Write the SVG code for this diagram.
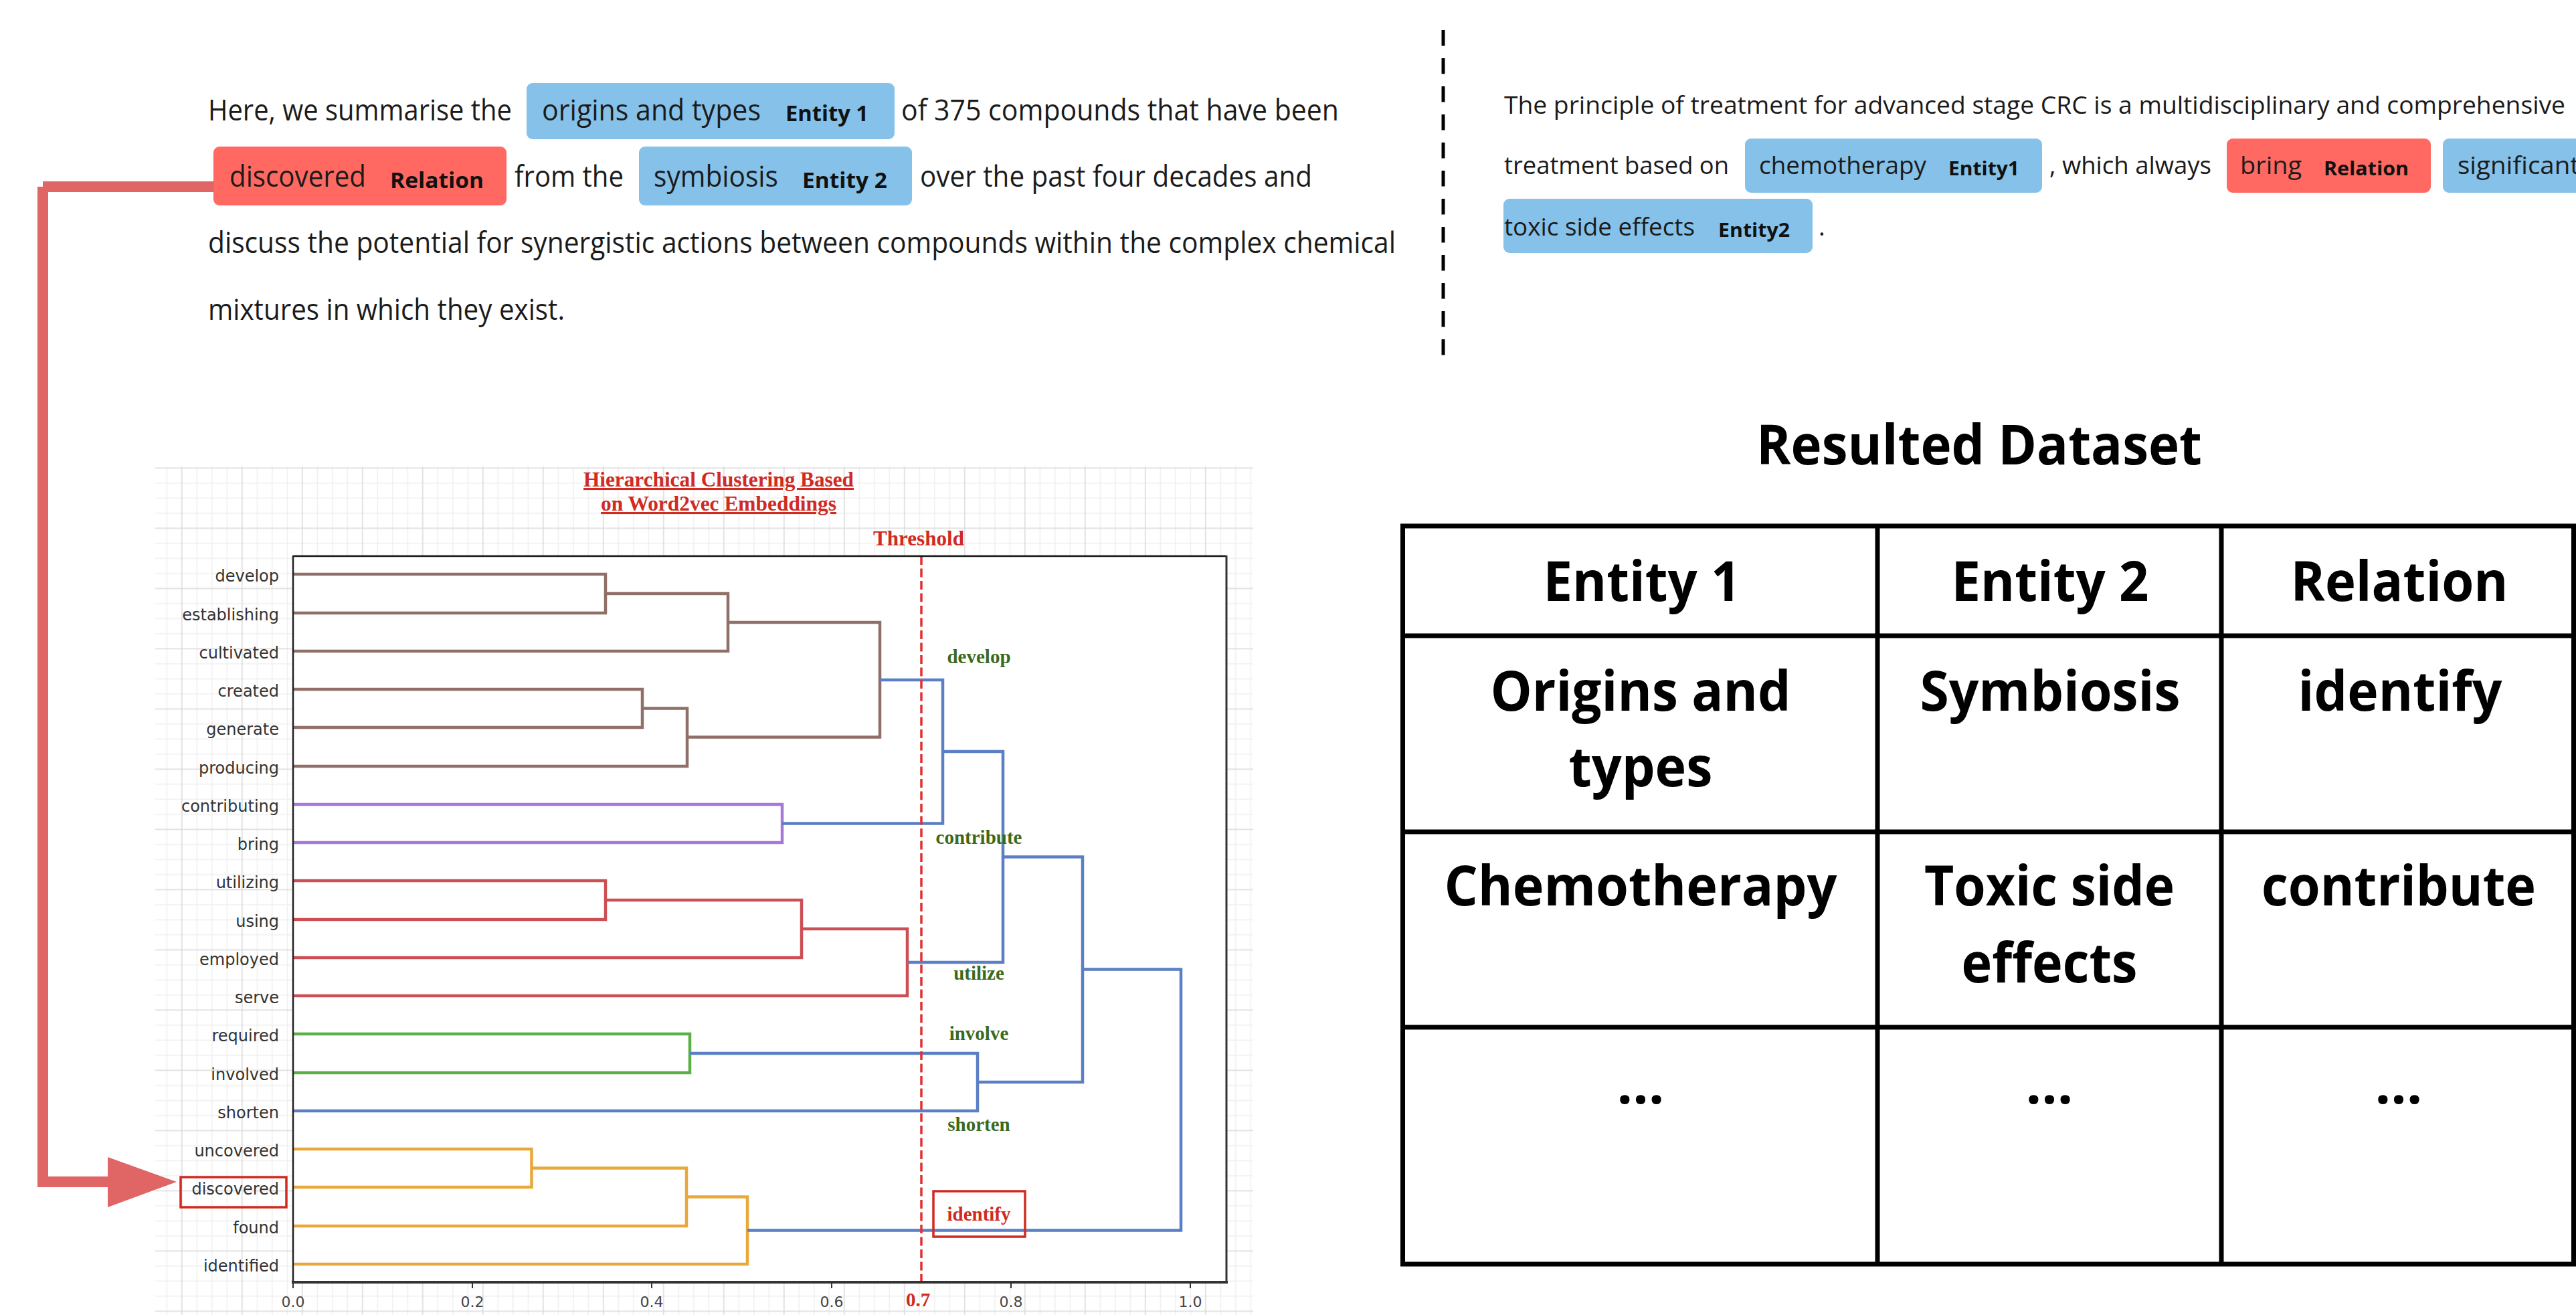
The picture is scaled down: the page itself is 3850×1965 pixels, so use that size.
<svg xmlns="http://www.w3.org/2000/svg" width="3850" height="1965" viewBox="0 0 3850 1965">
<defs>
<style>
.t{font-family:"Open Sans","Noto Sans",sans-serif;fill:#1b1b1b}
.p1{font-size:44px}
.p2{font-size:37px}
.b1{font-size:33px;font-weight:700;fill:#111}
.b2{font-size:28px;font-weight:700;fill:#111}
.ent{fill:#85c1e9}
.rel{fill:#ff6961}
.leaf{font-family:"DejaVu Sans",sans-serif;font-size:24px;fill:#333;text-anchor:end}
.cl{font-family:"Liberation Serif",serif;font-weight:700;font-size:29px;fill:#3a6a1c;text-anchor:middle}
.rd{font-family:"Liberation Serif",serif;font-weight:700;fill:#d02a22}
.tick{font-family:"DejaVu Sans",sans-serif;font-size:22px;fill:#444;text-anchor:middle}
.lk{fill:none;stroke-width:4.5;stroke-linejoin:miter}
.brown{stroke:#8f6f67}.purple{stroke:#a679d6}.red{stroke:#cc4f55}.green{stroke:#5ab046}.orange{stroke:#e9a93a}.blue{stroke:#5b7fc4}
.tb{stroke:#000;stroke-width:7;fill:none}
.th{font-family:"Open Sans","Noto Sans",sans-serif;font-weight:700;font-size:83px;text-anchor:middle;fill:#000}
.arr{stroke:#e06666;stroke-width:16;fill:none}
</style>
<pattern id="grid" x="0.8" y="68.4" width="90" height="90" patternUnits="userSpaceOnUse">
<path d="M23.5 0V90M46 0V90M68.5 0V90M0 23.5H90M0 46H90M0 68.5H90" stroke="#efefef" stroke-width="1.5"/>
<path d="M1 0V90M0 1H90" stroke="#dadada" stroke-width="1.5"/>
</pattern>
</defs>
<rect width="3850" height="1965" fill="#fff"/>

<g id="para-left" class="t">
<text class="t p1" x="311" y="180" textLength="454" lengthAdjust="spacingAndGlyphs">Here, we summarise the</text>
<rect class="ent" x="787" y="124" width="550" height="84" rx="9"/>
<text class="t p1" x="810" y="180" textLength="327" lengthAdjust="spacingAndGlyphs">origins and types</text>
<text class="t b1" x="1174" y="181" textLength="124" lengthAdjust="spacingAndGlyphs">Entity 1</text>
<text class="t p1" x="1347" y="180" textLength="654" lengthAdjust="spacingAndGlyphs">of 375 compounds that have been</text>
<rect class="rel" x="319" y="219" width="438" height="88" rx="9"/>
<text class="t p1" x="343" y="279" textLength="204" lengthAdjust="spacingAndGlyphs">discovered</text>
<text class="t b1" x="583" y="281" textLength="140" lengthAdjust="spacingAndGlyphs">Relation</text>
<text class="t p1" x="769" y="279" textLength="163" lengthAdjust="spacingAndGlyphs">from the</text>
<rect class="ent" x="955" y="219" width="408" height="88" rx="9"/>
<text class="t p1" x="977" y="279" textLength="186" lengthAdjust="spacingAndGlyphs">symbiosis</text>
<text class="t b1" x="1199" y="281" textLength="127" lengthAdjust="spacingAndGlyphs">Entity 2</text>
<text class="t p1" x="1375" y="279" textLength="586" lengthAdjust="spacingAndGlyphs">over the past four decades and</text>
<text class="t p1" x="311" y="378" textLength="1775" lengthAdjust="spacingAndGlyphs">discuss the potential for synergistic actions between compounds within the complex chemical</text>
<text class="t p1" x="311" y="478" textLength="533" lengthAdjust="spacingAndGlyphs">mixtures in which they exist.</text>
</g>

<g id="divider">
<line x1="2157" y1="45" x2="2157" y2="531" stroke="#000" stroke-width="5" stroke-dasharray="23.5 18.5"/>
</g>

<g id="para-right">
<text class="t p2" x="2248" y="170" textLength="1586" lengthAdjust="spacingAndGlyphs">The principle of treatment for advanced stage CRC is a multidisciplinary and comprehensive</text>
<text class="t p2" x="2248" y="260" textLength="336" lengthAdjust="spacingAndGlyphs">treatment based on</text>
<rect class="ent" x="2608" y="207" width="444" height="81" rx="9"/>
<text class="t p2" x="2629" y="260" textLength="250" lengthAdjust="spacingAndGlyphs">chemotherapy</text>
<text class="t b2" x="2912" y="262" textLength="106" lengthAdjust="spacingAndGlyphs">Entity1</text>
<text class="t p2" x="3063" y="260" textLength="242" lengthAdjust="spacingAndGlyphs">, which always</text>
<rect class="rel" x="3328" y="207" width="305" height="81" rx="9"/>
<text class="t p2" x="3348" y="260" textLength="92" lengthAdjust="spacingAndGlyphs">bring</text>
<text class="t b2" x="3473" y="262" textLength="127" lengthAdjust="spacingAndGlyphs">Relation</text>
<rect class="ent" x="3651" y="207" width="260" height="81" rx="9"/>
<text class="t p2" x="3673" y="260" textLength="182" lengthAdjust="spacingAndGlyphs">significant</text>
<rect class="ent" x="2247" y="297" width="462" height="81" rx="9"/>
<text class="t p2" x="2248" y="352" textLength="285" lengthAdjust="spacingAndGlyphs">toxic side effects</text>
<text class="t b2" x="2568" y="354" textLength="107" lengthAdjust="spacingAndGlyphs">Entity2</text>
<text class="t p2" x="2718" y="352">.</text>
</g>

<g id="dendrogram">
<rect x="232" y="697" width="1641" height="1268" fill="url(#grid)"/>
<rect x="438" y="830" width="1395" height="1086" fill="#fff"/>
<text class="rd" x="1074" y="727" font-size="31" text-anchor="middle" text-decoration="underline" textLength="404" lengthAdjust="spacingAndGlyphs">Hierarchical Clustering Based</text>
<text class="rd" x="1074" y="763" font-size="31" text-anchor="middle" text-decoration="underline" textLength="352" lengthAdjust="spacingAndGlyphs">on Word2vec Embeddings</text>
<text class="rd" x="1373" y="815" font-size="31" text-anchor="middle" textLength="136" lengthAdjust="spacingAndGlyphs">Threshold</text>
<g id="leaves">
<text class="leaf" x="417" y="869">develop</text>
<text class="leaf" x="417" y="927">establishing</text>
<text class="leaf" x="417" y="984">cultivated</text>
<text class="leaf" x="417" y="1041">created</text>
<text class="leaf" x="417" y="1098">generate</text>
<text class="leaf" x="417" y="1156">producing</text>
<text class="leaf" x="417" y="1213">contributing</text>
<text class="leaf" x="417" y="1270">bring</text>
<text class="leaf" x="417" y="1327">utilizing</text>
<text class="leaf" x="417" y="1385">using</text>
<text class="leaf" x="417" y="1442">employed</text>
<text class="leaf" x="417" y="1499">serve</text>
<text class="leaf" x="417" y="1556">required</text>
<text class="leaf" x="417" y="1614">involved</text>
<text class="leaf" x="417" y="1671">shorten</text>
<text class="leaf" x="417" y="1728">uncovered</text>
<text class="leaf" x="417" y="1785">discovered</text>
<text class="leaf" x="417" y="1843">found</text>
<text class="leaf" x="417" y="1900">identified</text>
</g>
<rect x="270" y="1759" width="158" height="45" fill="none" stroke="#d02a20" stroke-width="3.5"/>
<g id="links">
<path class="lk brown" d="M438 858H905V916H438"/>
<path class="lk brown" d="M905 887H1088V973H438"/>
<path class="lk brown" d="M438 1030H960V1087H438"/>
<path class="lk brown" d="M960 1058.5H1027V1145H438"/>
<path class="lk brown" d="M1088 930H1315V1101.5H1027"/>
<path class="lk purple" d="M438 1202H1169V1259H438"/>
<path class="lk blue" d="M1315 1016H1409V1230.5H1169"/>
<path class="lk red" d="M438 1316H905V1374H438"/>
<path class="lk red" d="M905 1345H1198V1431H438"/>
<path class="lk red" d="M1198 1388H1356V1488H438"/>
<path class="lk blue" d="M1409 1123H1499V1438H1356"/>
<path class="lk green" d="M438 1545H1031V1603H438"/>
<path class="lk blue" d="M1031 1574H1461V1660H438"/>
<path class="lk blue" d="M1499 1280.5H1618V1617H1461"/>
<path class="lk orange" d="M438 1717H794.5V1774H438"/>
<path class="lk orange" d="M794.5 1745.5H1026V1832H438"/>
<path class="lk orange" d="M1026 1788.5H1117V1889H438"/>
<path class="lk blue" d="M1618 1448.5H1765V1838.5H1117"/>
</g>
<line x1="1377" y1="831" x2="1377" y2="1915" stroke="#e03030" stroke-width="3.5" stroke-dasharray="13 5.5"/>
<path d="M438 831H1833" stroke="#111" stroke-width="2.5" fill="none"/>
<path d="M438 830V1917" stroke="#222" stroke-width="2.5" fill="none"/>
<path d="M1833 830V1917" stroke="#333" stroke-width="3" fill="none"/>
<path d="M436 1916H1835" stroke="#333" stroke-width="4" fill="none"/>
<path d="M438 1916v9M706 1916v9M974 1916v9M1243 1916v9M1511 1916v9M1779 1916v9" stroke="#333" stroke-width="2"/>
<text class="tick" x="438" y="1953">0.0</text>
<text class="tick" x="706" y="1953">0.2</text>
<text class="tick" x="974" y="1953">0.4</text>
<text class="tick" x="1243" y="1953">0.6</text>
<text class="tick" x="1511" y="1953">0.8</text>
<text class="tick" x="1779" y="1953">1.0</text>
<text class="rd" x="1372" y="1952" font-size="29" text-anchor="middle">0.7</text>
<text class="cl" x="1463" y="991">develop</text>
<text class="cl" x="1463" y="1261">contribute</text>
<text class="cl" x="1463" y="1464">utilize</text>
<text class="cl" x="1463" y="1554">involve</text>
<text class="cl" x="1463" y="1690">shorten</text>
<rect x="1395" y="1780" width="137" height="68" fill="none" stroke="#d02a20" stroke-width="3.5"/>
<text class="rd" x="1463" y="1824" font-size="29" text-anchor="middle">identify</text>
</g>

<g id="table">
<text class="th" x="2958" y="694" font-size="80" textLength="666" lengthAdjust="spacingAndGlyphs">Resulted Dataset</text>
<path class="tb" d="M2093 786H3850M2093 950H3850M2093 1243H3850M2093 1535H3850M2093 1889H3850M2096.5 782.5V1892.5M2806 782.5V1892.5M3320 782.5V1892.5M3846.5 782.5V1892.5"/>
<text class="th" x="2454" y="898" textLength="295" lengthAdjust="spacingAndGlyphs">Entity 1</text>
<text class="th" x="3064" y="898" textLength="295" lengthAdjust="spacingAndGlyphs">Entity 2</text>
<text class="th" x="3586" y="898" textLength="325" lengthAdjust="spacingAndGlyphs">Relation</text>
<text class="th" x="2452" y="1062" textLength="449" lengthAdjust="spacingAndGlyphs">Origins and</text>
<text class="th" x="2452" y="1175" textLength="215" lengthAdjust="spacingAndGlyphs">types</text>
<text class="th" x="3064" y="1062" textLength="389" lengthAdjust="spacingAndGlyphs">Symbiosis</text>
<text class="th" x="3587" y="1062" textLength="305" lengthAdjust="spacingAndGlyphs">identify</text>
<text class="th" x="2452" y="1353" textLength="587" lengthAdjust="spacingAndGlyphs">Chemotherapy</text>
<text class="th" x="3063" y="1353" textLength="374" lengthAdjust="spacingAndGlyphs">Toxic side</text>
<text class="th" x="3063" y="1468" textLength="263" lengthAdjust="spacingAndGlyphs">effects</text>
<text class="th" x="3585" y="1353" textLength="410" lengthAdjust="spacingAndGlyphs">contribute</text>
<text class="th" x="2452" y="1649">…</text>
<text class="th" x="3063" y="1649">…</text>
<text class="th" x="3585" y="1649">…</text>
</g>

<g id="connectors">
<path class="arr" d="M320 279H64"/>
<path class="arr" d="M64 279V1774"/>
<path class="arr" d="M64 1766H165"/>
<polygon points="161,1729 264,1766 161,1804" fill="#e06666"/>
</g>
</svg>
